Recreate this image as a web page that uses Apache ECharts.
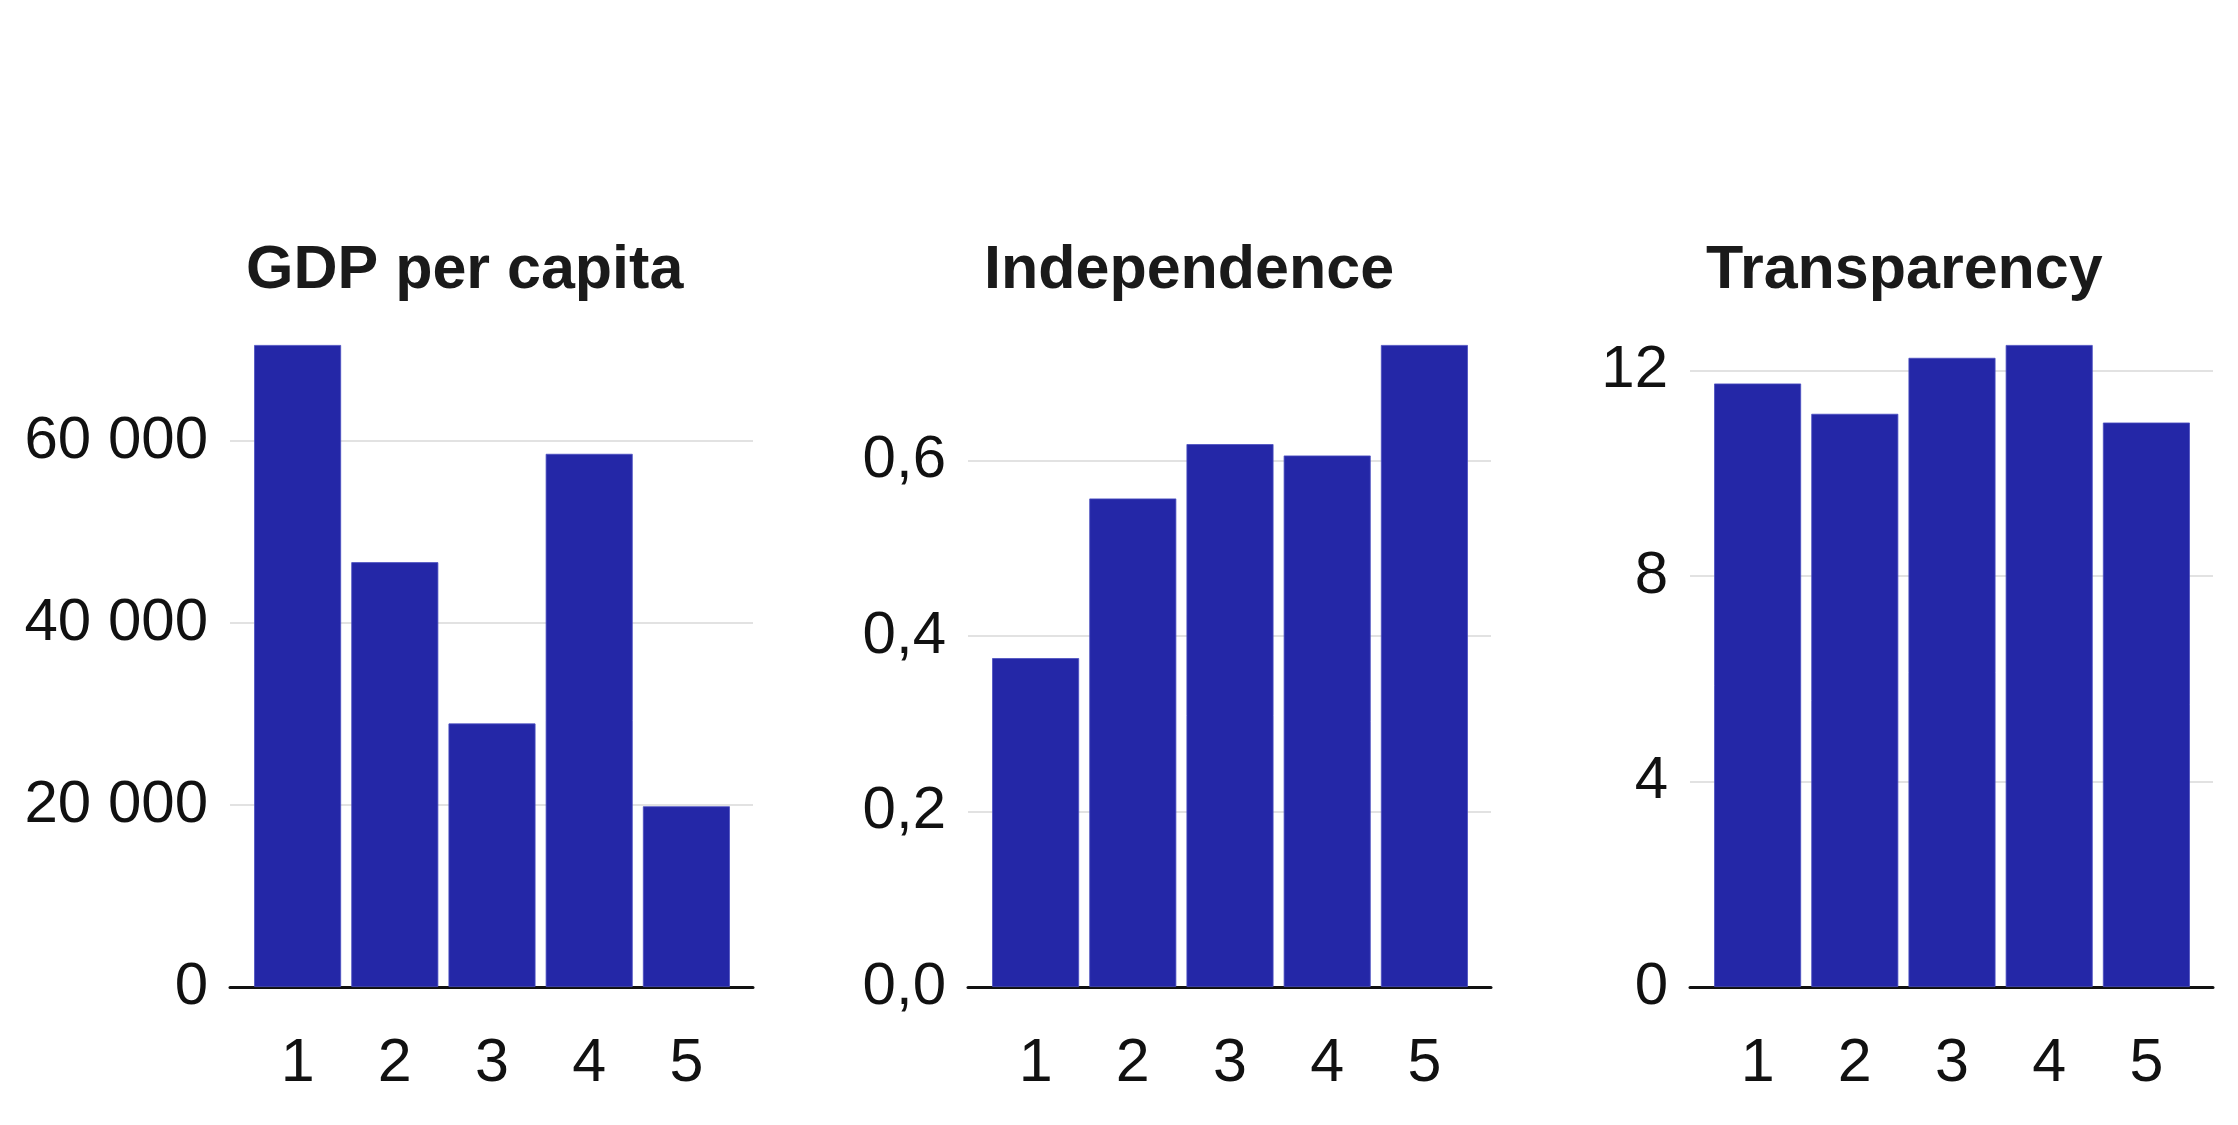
<!DOCTYPE html>
<html>
<head>
<meta charset="utf-8">
<script src="https://cdn.jsdelivr.net/npm/echarts@6/dist/echarts.min.js"></script>
<style>
html,body{margin:0;padding:0;background:#fff;}
#chart{width:2238px;height:1125px;}
</style>
</head>
<body>
<div id="chart"></div>
<script>
const categories = ['1', '2', '3', '4', '5'];
const panelTitles = ['GDP per capita', 'Independence', 'Transparency'];
const gdpValues = [70550, 46680, 28960, 58590, 19860];
const independenceValues = [0.375, 0.557, 0.619, 0.606, 0.732];
const transparencyValues = [11.75, 11.16, 12.25, 12.50, 10.99];
const tickIntervals = [20000, 0.2, 4];

const FONT = '"Liberation Sans", Arial, sans-serif';
const BAR = '#2427a7';

const fmtGdp = v => String(Math.round(v)).replace(/\B(?=(\d{3})+(?!\d))/g, ' ');
const fmtInd = v => v.toFixed(1).replace('.', ',');
const fmtTr = v => String(Math.round(v));
const formatters = [fmtGdp, fmtInd, fmtTr];
const seriesValues = [gdpValues, independenceValues, transparencyValues];

// layout (pixels)
const outerLeft = [230, 968, 1690];
const outerWidth = 523;
const innerOffset = 19;
const innerWidth = 486;
const plotTop = 345;
const plotHeight = 642;

const grids = [], xAxes = [], yAxes = [], series = [], titles = [];
for (let p = 0; p < 3; p++) {
  const vals = seriesValues[p];
  const vmax = Math.max(...vals);
  grids.push({left: outerLeft[p], top: plotTop, width: outerWidth, height: plotHeight, containLabel: false});
  grids.push({left: outerLeft[p] + innerOffset, top: plotTop, width: innerWidth, height: plotHeight, containLabel: false});
  const gOuter = 2 * p, gInner = 2 * p + 1;
  xAxes.push({
    type: 'category', gridIndex: gOuter, data: categories,
    axisLine: {show: true, lineStyle: {color: '#111', width: 3}},
    axisTick: {show: false}, axisLabel: {show: false}, splitLine: {show: false}
  });
  xAxes.push({
    type: 'category', gridIndex: gInner, data: categories,
    axisLine: {show: false}, axisTick: {show: false},
    axisLabel: {show: true, fontSize: 61, fontFamily: FONT, color: '#111', margin: 47}
  });
  yAxes.push({
    type: 'value', gridIndex: gOuter, min: 0, max: vmax, interval: tickIntervals[p],
    axisLine: {show: false}, axisTick: {show: false},
    axisLabel: {show: true, fontSize: 60, fontFamily: FONT, color: '#111', margin: 22,
      showMaxLabel: false, formatter: formatters[p]},
    splitLine: {show: true, showMaxLine: false, showMinLine: false, lineStyle: {color: '#d9d9d9', width: 1.5}}
  });
  yAxes.push({
    type: 'value', gridIndex: gInner, min: 0, max: vmax,
    show: false, splitLine: {show: false}
  });
  series.push({
    type: 'bar', xAxisIndex: 2 * p + 1, yAxisIndex: 2 * p + 1,
    data: vals, barWidth: 87,
    itemStyle: {color: BAR, borderColor: '#4a4ec0', borderWidth: 0.8},
    z: 3
  });
  titles.push({
    text: panelTitles[p], left: outerLeft[p] + innerOffset - 3, top: 241, padding: 0,
    textStyle: {fontSize: 61, fontWeight: 'bold', fontFamily: FONT, color: '#1a1a1a'}
  });
}

const chart = echarts.init(document.getElementById('chart'), null, {renderer: 'canvas'});
chart.setOption({
  animation: false,
  backgroundColor: '#ffffff',
  title: titles,
  grid: grids,
  xAxis: xAxes,
  yAxis: yAxes,
  series: series
});
</script>
</body>
</html>
